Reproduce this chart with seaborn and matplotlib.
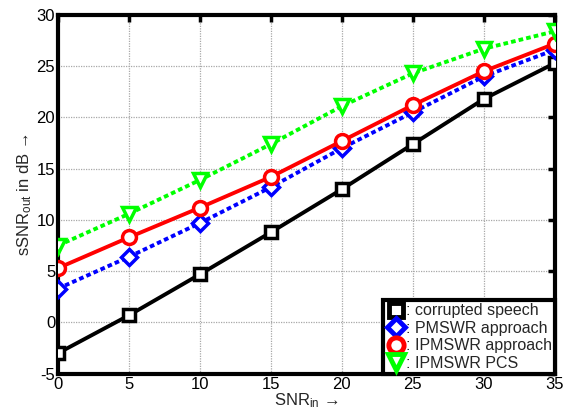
import matplotlib
matplotlib.use("Agg")
import matplotlib.pyplot as plt
from matplotlib.lines import Line2D
import seaborn as sns
import pandas as pd

snr_in = [0, 5, 10, 15, 20, 25, 30, 35]
corrupted = [-3.0, 0.7, 4.7, 8.8, 13.0, 17.4, 21.8, 25.3]
pmswr = [3.3, 6.4, 9.7, 13.2, 17.0, 20.5, 24.0, 26.6]
ipmswr = [5.3, 8.3, 11.2, 14.2, 17.7, 21.2, 24.5, 27.2]
ipmswr_pcs = [7.5, 10.6, 13.9, 17.4, 21.1, 24.3, 26.7, 28.4]

series_names = [": corrupted speech", ": PMSWR approach", ": IPMSWR approach", ": IPMSWR PCS"]
series_values = [corrupted, pmswr, ipmswr, ipmswr_pcs]
colors = ["black", "#0000ff", "#ff0000", "#00ff00"]
markers = ["s", "D", "o", "v"]
styles = ["-", (0, (1.2, 0.8)), "-", (0, (1.2, 0.8))]
msizes = [9, 8, 10, 10]

sns.set_style("white")
plt.rcParams["font.family"] = ["Liberation Sans", "DejaVu Sans"]
plt.rcParams["mathtext.fontset"] = "custom"
plt.rcParams["mathtext.rm"] = "Liberation Sans"
plt.rcParams["mathtext.it"] = "Liberation Sans"
plt.rcParams["axes.unicode_minus"] = False

fig, ax = plt.subplots(figsize=(5.68, 4.13), dpi=100)
fig.subplots_adjust(left=0.102, right=0.977, top=0.964, bottom=0.095)

handles = []
for name, vals, c, m, ls, ms in zip(series_names, series_values, colors, markers, styles, msizes):
    df = pd.DataFrame({"x": snr_in, "y": vals})
    sns.lineplot(data=df, x="x", y="y", ax=ax, color=c, linestyle=ls, linewidth=2.8,
                 marker=m, markersize=ms, markerfacecolor="white", markeredgecolor=c,
                 markeredgewidth=2.5, zorder=3)
    handles.append(Line2D([], [], linestyle="none", marker=m, markersize=ms + 1,
                          markerfacecolor="white", markeredgecolor=c, markeredgewidth=3.5,
                          label=name))

ax.set_xlim(0, 35)
ax.set_ylim(-5, 30)
ax.set_xticks(snr_in)
ax.set_yticks(range(-5, 31, 5))
ax.grid(True, color="#a8a8a8", linestyle=(0, (1, 1)), linewidth=0.9)
for s in ax.spines.values():
    s.set_linewidth(3)
    s.set_color("black")
    s.set_visible(True)
ax.tick_params(direction="in", length=5, width=2.5, top=True, right=True,
               labelsize=12, pad=2, colors="black")
ax.set_xlabel("SNR$_{\\mathrm{in}}$ \u2192", fontsize=12, labelpad=0)
ax.set_ylabel("sSNR$_{\\mathrm{out}}$ in dB \u2192", fontsize=12, labelpad=2)

leg = ax.legend(handles=handles, loc="lower right", fontsize=11.5, frameon=True,
                fancybox=False, borderpad=0.2, labelspacing=0.15, handletextpad=0.0,
                handlelength=1.2, borderaxespad=0.0, edgecolor="black")
leg.get_frame().set_linewidth(3)
leg.get_frame().set_alpha(1)

fig.savefig("out.png", dpi=100)
